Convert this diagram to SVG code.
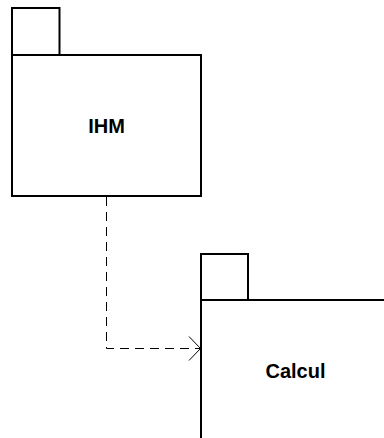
<svg xmlns="http://www.w3.org/2000/svg" width="384" height="438" viewBox="0 0 384 438">
<style>
.box{fill:#fff;stroke:#000;stroke-width:2}
.lbl{font-family:"Liberation Sans",Arial,sans-serif;font-weight:bold;font-size:20px;text-anchor:middle;fill:#000}
.conn{fill:none;stroke:#000;stroke-width:1}
</style>
<rect width="384" height="438" fill="#fff"/>
<g id="IHM">
<rect class="box" x="12" y="8" width="47.5" height="47"/>
<rect class="box" x="12" y="55" width="189" height="141"/>
<text class="lbl" x="106.5" y="133">IHM</text>
</g>
<g id="Calcul">
<rect class="box" x="201" y="254" width="47" height="46"/>
<rect class="box" x="201" y="300" width="189" height="141"/>
<text class="lbl" x="295.5" y="378">Calcul</text>
</g>
<g id="connectors">
<path class="conn" d="M106.5,197 V348.5 H200" stroke-dasharray="9,6"/>
<path class="conn" d="M189,336.5 L200.5,348.5 L189,360.5"/>
</g>
</svg>
